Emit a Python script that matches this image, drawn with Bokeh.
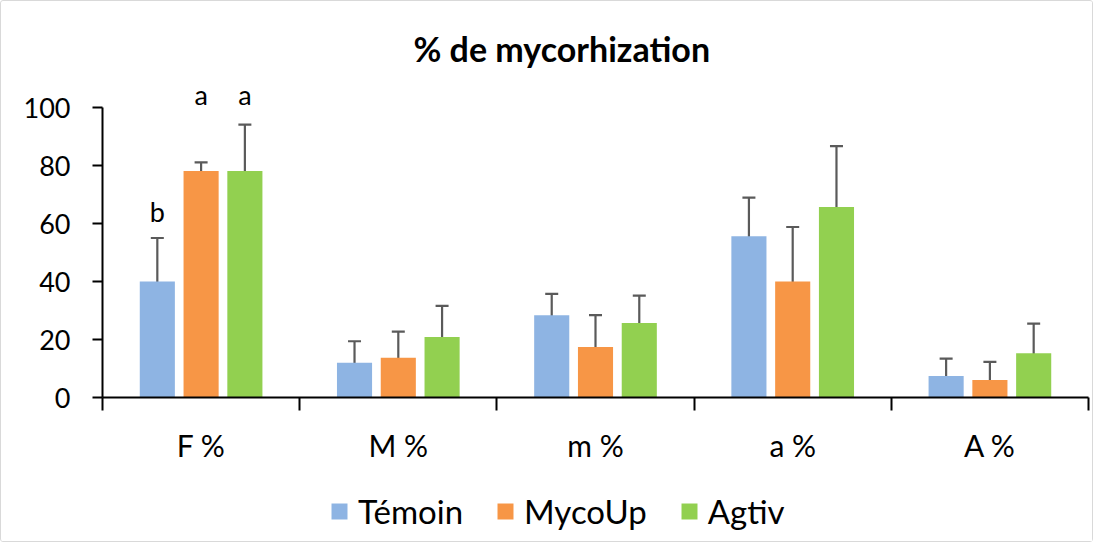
import numpy as np
from bokeh.plotting import figure
from bokeh.layouts import column
from bokeh.models import (ColumnDataSource, Range1d, FixedTicker, Whisker, TeeHead,
                          Legend, LegendItem, LabelSet, Title)
from bokeh.core.properties import value
from bokeh.embed import file_html
from bokeh.resources import INLINE

# ---- data ----
categories = ["F %", "M %", "m %", "a %", "A %"]
series_names = ["Témoin", "MycoUp", "Agtiv"]
temoin = [40.0, 12.0, 28.4, 55.6, 7.4]
temoin_err = [15.0, 7.4, 7.3, 13.3, 6.0]
mycoup = [78.1, 13.7, 17.4, 40.0, 6.0]
mycoup_err = [3.0, 9.0, 11.0, 18.8, 6.3]
agtiv = [78.1, 20.9, 25.7, 65.7, 15.3]
agtiv_err = [16.0, 10.7, 9.4, 21.0, 10.2]
signif_letters = ["b", "a", "a"]          # on the F % group
signif_y = [60.5, 100.7, 100.7]
y_ticks = [0, 20, 40, 60, 80, 100]

colors = ["#8EB4E3", "#F79646", "#92D050"]
offsets = [-0.222, 0.0, 0.222]
bar_w = 0.178
FONT = "Lato"
Y_TOP = 110

p = figure(width=1091, height=470, output_backend="svg", toolbar_location=None,
           x_range=Range1d(0, 5), y_range=Range1d(0, Y_TOP),
           min_border_left=101, min_border_right=4, min_border_top=77, min_border_bottom=74)
p.outline_line_color = None
p.xgrid.grid_line_color = None
p.ygrid.grid_line_color = None
p.background_fill_color = "white"
p.border_fill_color = "white"

centers = np.arange(len(categories)) + 0.5
vals = [temoin, mycoup, agtiv]
errs = [temoin_err, mycoup_err, agtiv_err]
for name, v, e, c, off in zip(series_names, vals, errs, colors, offsets):
    v = np.array(v); e = np.array(e)
    src = ColumnDataSource(dict(x=centers + off, top=v, upper=v + e,
                                lower=np.maximum(v - e, 0)))
    p.vbar(x="x", top="top", width=bar_w, source=src, fill_color=c, line_color=None)
    w = Whisker(source=src, base="x", upper="upper", lower="lower",
                line_color="#5A5A5A", line_width=2.2,
                upper_head=TeeHead(size=13, line_color="#5A5A5A", line_width=2.2),
                lower_head=TeeHead(size=13, line_color="#5A5A5A", line_width=2.2))
    p.add_layout(w)

# significance letters
lsrc = ColumnDataSource(dict(x=centers[0] + np.array(offsets), y=signif_y, t=signif_letters))
p.add_layout(LabelSet(source=lsrc, x="x", y="y", text="t", text_align="center",
                      text_baseline="alphabetic", text_font=value(FONT),
                      text_font_size=value("27px"), text_color="black"))

# title
p.add_layout(Title(text="% de mycorhization", align="left", offset=311, standoff=20,
                   text_font=FONT, text_font_style="bold", text_font_size="34px",
                   text_color="black"), "above")

# x axis
xa = p.xaxis[0]
xa.ticker = FixedTicker(ticks=list(centers), minor_ticks=list(range(len(categories) + 1)))
xa.major_label_overrides = {float(c): lab for c, lab in zip(centers, categories)}
xa.major_tick_out = 0
xa.major_tick_in = 0
xa.minor_tick_out = 13
xa.minor_tick_in = 0
xa.minor_tick_line_color = "black"
xa.minor_tick_line_width = 2
xa.axis_line_color = "black"
xa.axis_line_width = 2
xa.major_label_standoff = 16
xa.major_label_text_font = FONT
xa.major_label_text_font_size = "30px"
xa.major_label_text_color = "black"

# y axis
ya = p.yaxis[0]
ya.ticker = FixedTicker(ticks=y_ticks, minor_ticks=[])
ya.bounds = (0, 100)
ya.major_tick_out = 10
ya.major_tick_in = 0
ya.major_tick_line_color = "black"
ya.major_tick_line_width = 2
ya.axis_line_color = "black"
ya.axis_line_width = 2
ya.major_label_standoff = 22
ya.major_label_text_font = FONT
ya.major_label_text_font_size = "27px"
ya.major_label_text_color = "black"

# legend strip (separate figure below the chart; its frame aligns with the chart's frame)
q = figure(width=1091, height=70, output_backend="svg", toolbar_location=None,
           x_range=Range1d(0, 1), y_range=Range1d(0, 1),
           x_axis_location=None, y_axis_location=None,
           min_border_left=0, min_border_right=0, min_border_top=0, min_border_bottom=0)
q.outline_line_color = None
q.xgrid.grid_line_color = None
q.ygrid.grid_line_color = None
items = []
for name, c in zip(series_names, colors):
    # zero-height legend proxy glyph (draws nothing in the plot area)
    r = q.vbar(x=[0.5], top=[0], bottom=[0], width=0.1, fill_color=c, line_color=None)
    items.append(LegendItem(label=name, renderers=[r]))
legend = Legend(items=items, orientation="horizontal", location=(227, 10),
                glyph_width=20, glyph_height=20, label_standoff=9, spacing=32,
                padding=0, margin=0, border_line_color=None, background_fill_alpha=0,
                label_text_font=FONT, label_text_font_size="33px", label_text_color="black")
q.add_layout(legend, "center")

layout = column(p, q, spacing=0,
                styles={"border": "1.5px solid #D9D9D9", "border-radius": "3px"})
open("out.html", "w").write(file_html(layout, INLINE))
